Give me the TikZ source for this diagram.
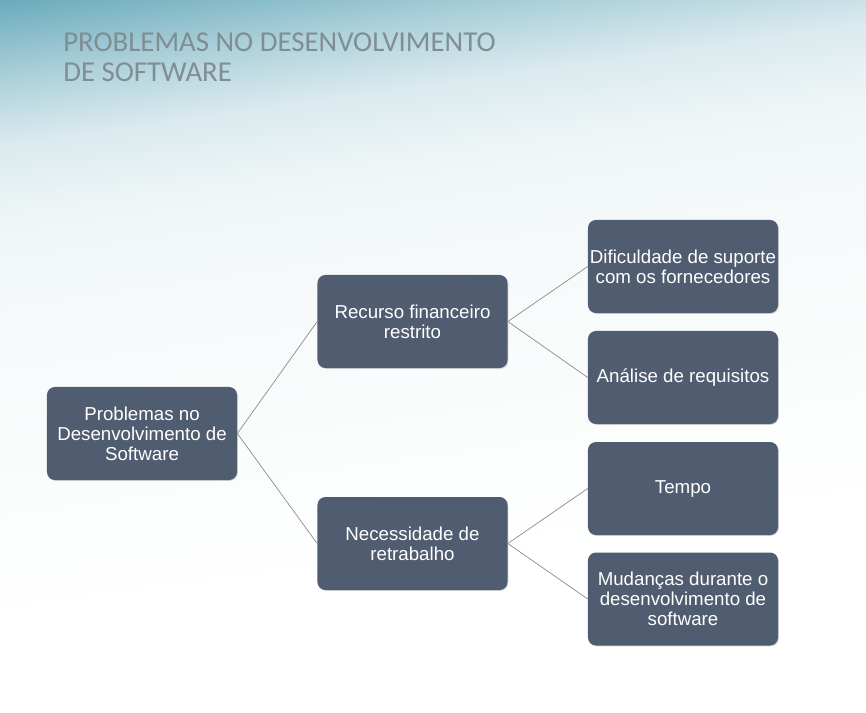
\documentclass[tikz,border=0pt]{standalone}
\usepackage{fontspec}
\setmainfont{Liberation Sans}
\newfontfamily\titlefont{Carlito}
\usepackage{xcolor}
\usetikzlibrary{shadows}

\definecolor{boxfill}{RGB}{80,92,112}
\definecolor{linkgray}{RGB}{140,140,140}
\definecolor{titlegray}{RGB}{128,142,148}
\definecolor{bgA}{RGB}{108,172,188}
\definecolor{bgB}{RGB}{172,208,218}
\definecolor{bgC}{RGB}{218,234,238}
\definecolor{bgD}{RGB}{240,246,247}
\definecolor{bgE}{RGB}{248,251,251}
% the path spans roughly 22bp..78bp of the shading
\pgfdeclareverticalshading{bgshade}{100bp}{color(0bp)=(white); color(35bp)=(white); color(52bp)=(bgE); color(63bp)=(bgD); color(68.5bp)=(bgC); color(73bp)=(bgB); color(78.2bp)=(bgA); color(100bp)=(bgA)}

\begin{document}
\begin{tikzpicture}[x=0.025cm, y=-0.025cm,
    box/.style={fill=boxfill, rounded corners=0.2cm, text=white, align=center,
        minimum width=4.75cm, minimum height=2.325cm, inner sep=0pt,
        font=\fontsize{13.3pt}{14.2pt}\selectfont,
        drop shadow={shadow xshift=0.6pt, shadow yshift=-0.6pt, opacity=0.3}},
    link/.style={draw=linkgray, line width=0.5pt}]
    \useasboundingbox (0,0) rectangle (866,712);
    % background
    \shade[shading=bgshade, shading angle=8] (0,0) rectangle (866,712);
    % title
    \node[anchor=north west, align=left, inner sep=0pt, text=titlegray,
        font=\titlefont\fontsize{20.5pt}{20.8pt}\selectfont] (title) at (63,33)
        {PROBLEMAS NO DESENVOLVIMENTO\\DE SOFTWARE};
    % tree
    \node[box] (root) at (142,433.5) {Problemas no\\Desenvolvimento de\\Software};
    \node[box] (recurso) at (412.5,321.5) {Recurso financeiro\\restrito};
    \node[box] (retrabalho) at (412.5,543.5) {Necessidade de\\retrabalho};
    \node[box] (suporte) at (683,266.5) {Dificuldade de suporte\\com os fornecedores};
    \node[box] (requisitos) at (683,377.5) {Análise de requisitos};
    \node[box] (tempo) at (683,488.5) {Tempo};
    \node[box] (mudancas) at (683,599) {Mudanças durante o\\desenvolvimento de\\software};
    \draw[link] (root.east) -- (recurso.west);
    \draw[link] (root.east) -- (retrabalho.west);
    \draw[link] (recurso.east) -- (suporte.west);
    \draw[link] (recurso.east) -- (requisitos.west);
    \draw[link] (retrabalho.east) -- (tempo.west);
    \draw[link] (retrabalho.east) -- (mudancas.west);
\end{tikzpicture}
\end{document}
